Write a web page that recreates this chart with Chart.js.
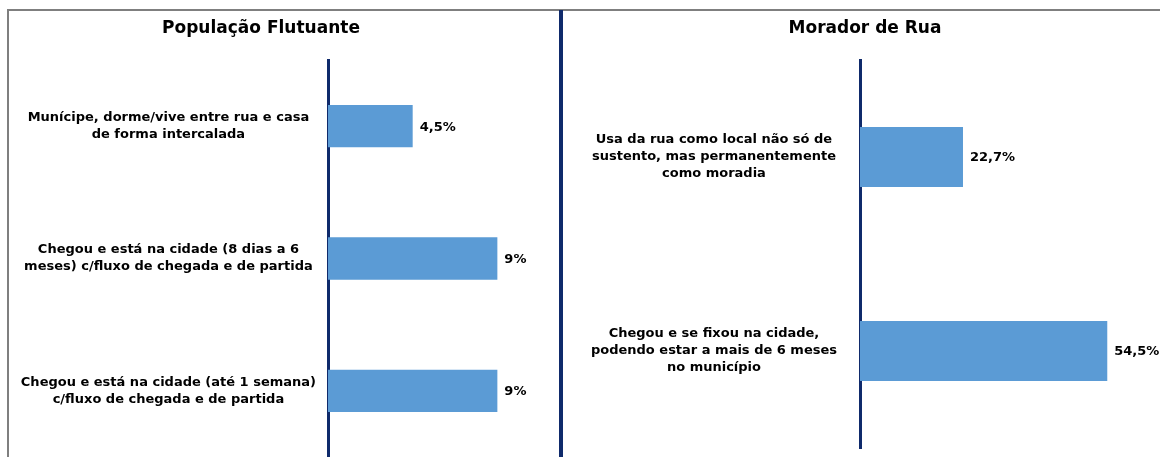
<!DOCTYPE html>
<html>
<head>
<meta charset="utf-8">
<script src="https://cdn.jsdelivr.net/npm/chart.js@4.4.0/dist/chart.umd.min.js"></script>
<style>
  html, body { margin: 0; padding: 0; background: #fff; }
  body { width: 1160px; height: 457px; position: relative; overflow: hidden; }
  #frame {
    position: absolute; left: 7px; top: 9px; width: 1170px; height: 470px;
    border-top: 2px solid #7f7f7f; border-left: 2px solid #7f7f7f;
  }
  #divider { position: absolute; left: 559px; top: 10px; width: 4px; height: 447px; background: #0f2a6b; }
  .panel { position: absolute; top: 11px; height: 446px; }
  #left-panel { left: 9px; width: 549px; }
  #right-panel { left: 563px; width: 597px; }
  .title {
    position: absolute; top: 17px; height: 22px; line-height: 22px;
    font: bold 17px 'DejaVu Sans', sans-serif; color: #000; text-align: center;
  }
  #left-title { left: 0; width: 522px; }
  #right-title { left: 565px; width: 600px; }
</style>
</head>
<body>
<div id="frame"></div>
<div id="divider"></div>
<div class="panel" id="left-panel"><canvas id="left-chart"></canvas></div>
<div class="panel" id="right-panel"><canvas id="right-chart"></canvas></div>
<div class="title" id="left-title">População Flutuante</div>
<div class="title" id="right-title">Morador de Rua</div>

<script>
// ---------------------------------------------------------------------------
// Data
// ---------------------------------------------------------------------------

const flutuanteLabels = [
  ['Munícipe, dorme/vive entre rua e casa', 'de forma intercalada'],
  ['Chegou e está na cidade (8 dias a 6', 'meses) c/fluxo de chegada e de partida'],
  ['Chegou e está na cidade (até 1 semana)', 'c/fluxo de chegada e de partida'],
];
const flutuanteValues = [4.5, 9, 9];

const moradorLabels = [
  ['Usa da rua como local não só de', 'sustento, mas permanentemente', 'como moradia'],
  ['Chegou e se fixou na cidade,', 'podendo estar a mais de 6 meses', 'no município'],
];
const moradorValues = [22.7, 54.5];

const BAR_COLOR = '#5b9bd5';
const AXIS_COLOR = '#0f2a6b';
const FONT = 'DejaVu Sans';

// pt-BR style percentage: 4.5 -> "4,5%"
function fmtPct(v) {
  return v.toLocaleString('pt-BR', { maximumFractionDigits: 1 }) + '%';
}

// Value labels at the end of each bar
const valueLabels = {
  id: 'valueLabels',
  afterDatasetsDraw(chart) {
    const { ctx } = chart;
    const meta = chart.getDatasetMeta(0);
    const data = chart.data.datasets[0].data;
    ctx.save();
    ctx.font = `bold 13px "${FONT}"`;
    ctx.fillStyle = '#000';
    ctx.textAlign = 'left';
    ctx.textBaseline = 'middle';
    meta.data.forEach((bar, i) => {
      ctx.fillText(fmtPct(data[i]), bar.x + 7, bar.y + 1);
    });
    ctx.restore();
  },
};

function makeChart(id, labels, values, opts) {
  return new Chart(document.getElementById(id), {
    type: 'bar',
    data: {
      labels,
      datasets: [{
        data: values,
        backgroundColor: BAR_COLOR,
        borderWidth: 0,
        categoryPercentage: 1,
        barPercentage: opts.barPct,
      }],
    },
    options: {
      indexAxis: 'y',
      responsive: true,
      maintainAspectRatio: false,
      animation: false,
      layout: { padding: opts.padding },
      plugins: {
        legend: { display: false },
        tooltip: { enabled: false },
        title: { display: false },
      },
      scales: {
        x: { display: false, min: 0, max: opts.xMax },
        y: {
          // fixed label column width, and no extra room reserved for the
          // multi-line first/last labels
          afterFit: (scale) => {
            scale.width = opts.axisWidth;
            scale.paddingTop = 0;
            scale.paddingBottom = 0;
          },
          grid: { display: false, drawTicks: false },
          border: { color: AXIS_COLOR, width: 3 },
          ticks: {
            crossAlign: 'center',
            padding: opts.tickPad,
            color: '#000',
            font: { family: FONT, size: 13, weight: 'bold', lineHeight: 1.3 },
          },
        },
      },
    },
    plugins: [valueLabels],
  });
}

makeChart('left-chart', flutuanteLabels, flutuanteValues, {
  barPct: 0.32,
  xMax: 11.85,
  axisWidth: 319,
  tickPad: 12,
  padding: { top: 49, bottom: 0, right: 7, left: 0 },
});

makeChart('right-chart', moradorLabels, moradorValues, {
  barPct: 0.31,
  xMax: 64.8,
  axisWidth: 297,
  tickPad: 23,
  padding: { top: 49, bottom: 9, right: 6, left: 0 },
});
</script>
</body>
</html>
